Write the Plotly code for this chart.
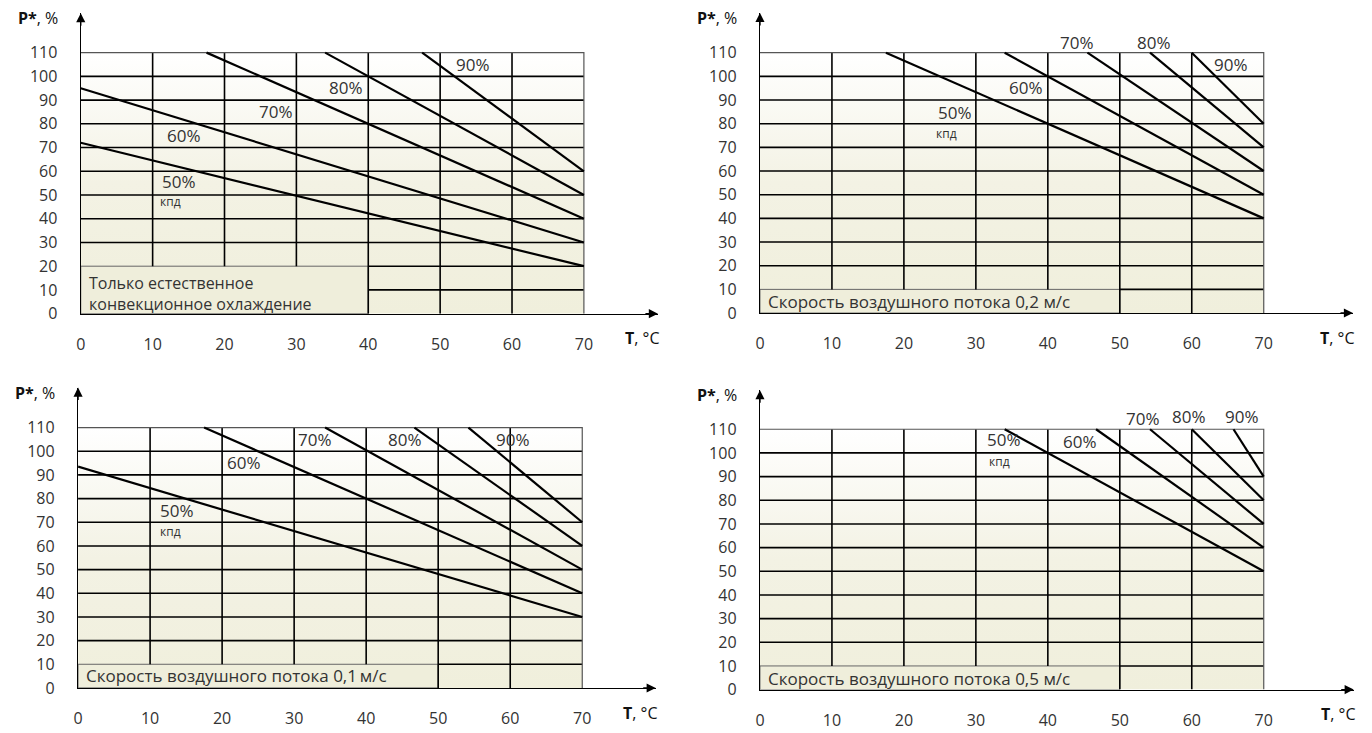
import plotly.graph_objects as go

W, H = 1372, 733
OFF = 8  # page body margin in the browser

# ---------------- data ----------------
eff_labels = ["50%", "60%", "70%", "80%", "90%"]
x_ticks = [0, 10, 20, 30, 40, 50, 60, 70]
y_ticks = [0, 10, 20, 30, 40, 50, 60, 70, 80, 90, 100, 110]

# chart 1: natural convection only
c1_x0 = [0, 0, 17.5, 34, 47.5]
c1_y0 = [72, 95, 110, 110, 110]
c1_x1 = [70, 70, 70, 70, 70]
c1_y1 = [20, 30, 40, 50, 60]
c1_lx = [13.6, 14.4, 27.1, 36.9, 54.6]
c1_ly = [55.6, 75.0, 85.0, 95.2, 104.9]
c1_kpd = (10.8, 47.3)
c1_box = (40, 20)
c1_text = "Только естественное<br>конвекционное охлаждение"
c1_text_y = 8.7

# chart 2: air flow 0.2 m/s
c2_x0 = [17.5, 34, 45.5, 54.2, 60]
c2_y0 = [110, 110, 110, 110, 110]
c2_x1 = [70, 70, 70, 70, 70]
c2_y1 = [40, 50, 60, 70, 80]
c2_lx = [27.1, 37.0, 44.1, 54.8, 65.4]
c2_ly = [84.9, 95.2, 114.4, 114.4, 105.2]
c2_kpd = (24.2, 75.7)
c2_box = (50, 10)
c2_text = "Скорость воздушного потока 0,2 м/с"
c2_text_y = 4.9

# chart 3: air flow 0.1 m/s
c3_x0 = [0, 17.5, 34.3, 46.7, 54.2]
c3_y0 = [93.5, 110, 110, 110, 110]
c3_x1 = [70, 70, 70, 70, 70]
c3_y1 = [30, 40, 50, 60, 70]
c3_lx = [13.7, 23.0, 32.9, 45.4, 60.4]
c3_ly = [74.9, 95.3, 105.1, 105.0, 105.0]
c3_kpd = (11.1, 65.9)
c3_box = (50, 10)
c3_text = "Скорость воздушного потока 0,1\u2009м/с"
c3_text_y = 5.1

# chart 4: air flow 0.5 m/s
c4_x0 = [34, 46.7, 54.2, 60, 65.8]
c4_y0 = [110, 110, 110, 110, 110]
c4_x1 = [70, 70, 70, 70, 70]
c4_y1 = [50, 60, 70, 80, 90]
c4_lx = [33.9, 44.5, 53.2, 59.6, 67.0]
c4_ly = [105.5, 104.8, 114.5, 115.2, 115.2]
c4_kpd = (31.5, 96.5)
c4_box = (50, 10)
c4_text = "Скорость воздушного потока 0,5 м/с"
c4_text_y = 4.9

# ---------------- geometry (reference pixels) ----------------
# (px of x=0, px/unit x, px of y=0, px/unit y, x arrow tip, y arrow tip)
geo = [
    (76.0, 7.214, 318.3, 2.409, 80.3, 126.6),
    (757.7, 7.223, 317.7, 2.403, 82.4, 126.8),
    (73.3, 7.229, 698.3, 2.403, 80.2, 126.9),
    (757.7, 7.223, 700.0, 2.403, 82.5, 126.5),
]

charts = [
    (c1_x0, c1_y0, c1_x1, c1_y1, c1_lx, c1_ly, c1_kpd, c1_box, c1_text, c1_text_y),
    (c2_x0, c2_y0, c2_x1, c2_y1, c2_lx, c2_ly, c2_kpd, c2_box, c2_text, c2_text_y),
    (c3_x0, c3_y0, c3_x1, c3_y1, c3_lx, c3_ly, c3_kpd, c3_box, c3_text, c3_text_y),
    (c4_x0, c4_y0, c4_x1, c4_y1, c4_lx, c4_ly, c4_kpd, c4_box, c4_text, c4_text_y),
]

FONT = "Open Sans"
TXT = "#333333"
fig = go.Figure()
annotations = []
layout_axes = {}
XMAX, YMAX = 70, 110


def px_to_paper_x(px):
    return (px - OFF) / W


def px_to_paper_y(py):
    return (H - (py - OFF)) / H


for i, ((px0, sx, py0, sy, xtip, ytip), ch) in enumerate(zip(geo, charts)):
    x0s, y0s, x1s, y1s, lx, ly, kpd, box, btxt, bty = ch
    n = "" if i == 0 else str(i + 1)
    xa, ya = "x" + n, "y" + n
    bx, by = box

    # background gradient
    fig.add_trace(go.Scatter(
        x=[0, XMAX, XMAX, 0, 0], y=[0, 0, YMAX, YMAX, 0], xaxis=xa, yaxis=ya,
        fill="toself", mode="none", hoverinfo="skip", showlegend=False,
        fillgradient=dict(type="vertical",
                          colorscale=[[0, "#f0efdc"], [0.5, "#f3f2e4"], [1, "#ffffff"]]),
    ))
    # caption box
    fig.add_trace(go.Scatter(
        x=[0, bx, bx, 0, 0], y=[0, 0, by, by, 0], xaxis=xa, yaxis=ya,
        fill="toself", fillcolor="#efeedb", mode="lines",
        line=dict(color="#666666", width=1), hoverinfo="skip", showlegend=False,
    ))
    # grid lines
    gx, gy = [], []
    for v in x_ticks[1:-1]:
        ystart = by if v < bx else 0
        gx += [v, v, None]
        gy += [ystart, YMAX, None]
    for v in y_ticks[1:-1]:
        xstart = bx if v <= by else 0
        gx += [xstart, XMAX, None]
        gy += [v, v, None]
    fig.add_trace(go.Scatter(
        x=gx, y=gy, xaxis=xa, yaxis=ya, mode="lines",
        line=dict(color="#000000", width=1.6), hoverinfo="skip", showlegend=False,
    ))
    # border top & right
    fig.add_trace(go.Scatter(
        x=[0, XMAX, XMAX], y=[YMAX, YMAX, 0], xaxis=xa, yaxis=ya, mode="lines",
        line=dict(color="#555555", width=1.2), hoverinfo="skip", showlegend=False,
    ))
    # efficiency lines
    for lab, a, b, c, d in zip(eff_labels, x0s, y0s, x1s, y1s):
        fig.add_trace(go.Scatter(
            x=[a, c], y=[b, d], xaxis=xa, yaxis=ya, mode="lines", name=lab,
            line=dict(color="#000000", width=2.2), showlegend=False,
        ))
    # efficiency labels
    for lab, a, b in zip(eff_labels, lx, ly):
        annotations.append(dict(x=a, y=b, xref=xa, yref=ya, text=lab, showarrow=False,
                                font=dict(family=FONT, size=17, color=TXT),
                                xanchor="center", yanchor="middle"))
    annotations.append(dict(x=kpd[0], y=kpd[1], xref=xa, yref=ya, text="кпд", showarrow=False,
                            font=dict(family=FONT, size=12, color=TXT),
                            xanchor="left", yanchor="middle"))
    bsize = 16 if "<br>" in btxt else 17
    annotations.append(dict(x=0.8, y=bty, xref=xa, yref=ya, text=btxt, showarrow=False,
                            align="left", font=dict(family=FONT, size=bsize, color=TXT),
                            xanchor="left", yanchor="middle"))

    # axis titles (placed in paper coords, outside the data range)
    tip_px_y = py0 - ytip * sy
    tip_px_x = px0 + xtip * sx
    annotations.append(dict(x=px_to_paper_x(px0 - 21), y=px_to_paper_y(tip_px_y + 5),
                            xref="paper", yref="paper",
                            text="<b>P*</b>, %", showarrow=False,
                            font=dict(family=FONT, size=16, color="#111111"),
                            xanchor="right", yanchor="middle"))
    annotations.append(dict(x=px_to_paper_x(tip_px_x + 4), y=px_to_paper_y(py0 + 25),
                            xref="paper", yref="paper",
                            text="<b>T</b>, °C", showarrow=False,
                            font=dict(family=FONT, size=16, color="#111111"),
                            xanchor="right", yanchor="middle"))
    # arrowheads
    annotations.append(dict(x=xtip, y=0, xref=xa, yref=ya, ax=-14, ay=0, text="",
                            showarrow=True, arrowhead=2, arrowsize=1.3, arrowwidth=1.4,
                            arrowcolor="#000000", standoff=0))
    annotations.append(dict(x=0, y=ytip, xref=xa, yref=ya, ax=0, ay=14, text="",
                            showarrow=True, arrowhead=2, arrowsize=1.3, arrowwidth=1.4,
                            arrowcolor="#000000", standoff=0))

    # axes domains
    xd = [px_to_paper_x(px0), px_to_paper_x(tip_px_x)]
    yd = [px_to_paper_y(py0), px_to_paper_y(tip_px_y)]
    layout_axes["xaxis" + n] = dict(
        domain=xd, range=[0, xtip], anchor=ya, showgrid=False, zeroline=False,
        showline=True, linecolor="#000000", linewidth=1.4,
        tickmode="array", tickvals=x_ticks, ticktext=[str(v) for v in x_ticks],
        ticks="outside", ticklen=16, tickcolor="rgba(0,0,0,0)",
        tickfont=dict(family=FONT, size=16, color=TXT), fixedrange=True,
    )
    layout_axes["yaxis" + n] = dict(
        domain=yd, range=[0, ytip], anchor=xa, showgrid=False, zeroline=False,
        showline=True, linecolor="#000000", linewidth=1.4,
        tickmode="array", tickvals=y_ticks, ticktext=[str(v) for v in y_ticks],
        ticks="outside", ticklen=19, tickcolor="rgba(0,0,0,0)",
        tickfont=dict(family=FONT, size=16, color=TXT), fixedrange=True,
    )

fig.update_layout(
    width=W, height=H, margin=dict(l=0, r=0, t=0, b=0),
    paper_bgcolor="#ffffff", plot_bgcolor="rgba(0,0,0,0)",
    showlegend=False, annotations=annotations, **layout_axes,
)
fig.write_html("out.html")
